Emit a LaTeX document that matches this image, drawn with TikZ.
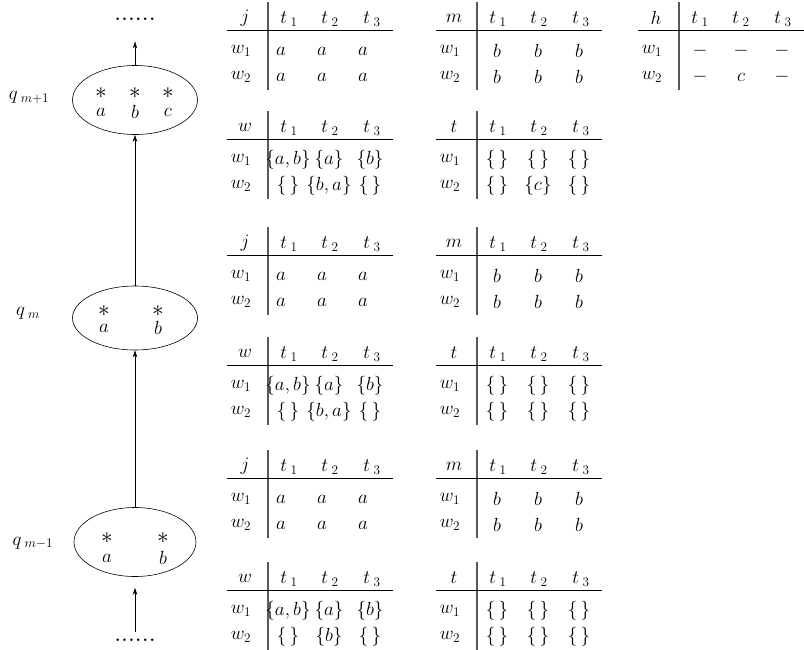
\documentclass[tikz,border=0pt]{standalone}
\usepackage{graphicx}
\usetikzlibrary{arrows.meta,shapes.geometric}
\tikzset{
  cell/.style={inner sep=0pt, font=\fontsize{17.28}{20}\selectfont},
  vrule/.style={draw=black!65, line width=1.3pt},
  hrule/.style={draw=black, line width=0.8pt},
  state/.style={ellipse, draw, line width=0.6pt, inner sep=0pt},
  arr/.style={-{Stealth[length=7pt,width=4.5pt]}, line width=0.6pt},
  dots/.style={inner sep=1pt, font=\fontsize{17.28}{20}\selectfont\bfseries},
}
\newcommand\T[1]{\scalebox{1.1}{#1}}
\newcommand\St{\scalebox{1.35}{$\ast$}}
\newcommand\tabframe[4]{% name, V, h, label
  \draw[vrule] (#2,#3-16) -- (#2,#3+72);
  \draw[hrule] (#2-41,#3+12) -- (#2+125,#3+12);
  \node[cell] (#1h) at (#2-23,#3) {\T{$#4$}};
  \node[cell] (#1t1) at (#2+21,#3+1) {\T{$t_{\;1}$}};
  \node[cell] (#1t2) at (#2+62,#3+1) {\T{$t_{\;2}$}};
  \node[cell] (#1t3) at (#2+104,#3+1) {\T{$t_{\;3}$}};
  \node[cell] (#1wa) at (#2-27,#3+33) {\T{$w_1$}};
  \node[cell] (#1wb) at (#2-27,#3+59) {\T{$w_2$}};
}
\newcommand\tabrow[8]{% name, V, y, idx, v1, v2, v3, shift
  \node[cell] (#1r#4a) at (#2+20+#8,#3) {\T{#5}};
  \node[cell] (#1r#4b) at (#2+61+#8,#3) {\T{#6}};
  \node[cell] (#1r#4c) at (#2+102+#8,#3) {\T{#7}};
}
\newcommand\es{$\{\,\}$}
\begin{document}
\begin{tikzpicture}[x=1pt,y=-1pt]
\useasboundingbox (0,0) rectangle (804,649);

% ---- states ----
\node[state, minimum width=125pt, minimum height=69pt] (s3) at (135,100) {};
\node[state, minimum width=125pt, minimum height=64pt] (s2) at (135,318) {};
\node[state, minimum width=122pt, minimum height=69pt] (s1) at (135,542) {};

\node[cell] (s3x1) at (101,93) {\St};
\node[cell] (s3x2) at (135,93) {\St};
\node[cell] (s3x3) at (168,93) {\St};
\node[cell] (s3a) at (101,112) {\T{$a$}};
\node[cell] (s3b) at (135,112) {\T{$b$}};
\node[cell] (s3c) at (168,112) {\T{$c$}};

\node[cell] (s2x1) at (104,311) {\St};
\node[cell] (s2x2) at (158,311) {\St};
\node[cell] (s2a) at (104,328) {\T{$a$}};
\node[cell] (s2b) at (158,328) {\T{$b$}};

\node[cell] (s1x1) at (107,538) {\St};
\node[cell] (s1x2) at (163,538) {\St};
\node[cell] (s1a) at (107,558) {\T{$a$}};
\node[cell] (s1b) at (163,558) {\T{$b$}};

\node[cell] (q3) at (29,97) {\T{$q_{\;m+1}$}};
\node[cell] (q2) at (28,313) {\T{$q_{\;m}$}};
\node[cell] (q1) at (33,543) {\T{$q_{\;m-1}$}};

\node[dots] (topdots) at (135,19) {.\kern1.5pt.\kern1.5pt.\kern1.5pt.\kern1.5pt.\kern1.5pt.};
\node[dots] (botdots) at (135,640) {.\kern1.5pt.\kern1.5pt.\kern1.5pt.\kern1.5pt.\kern1.5pt.};

\draw[arr, shorten >=20pt] (s3.north) -- (topdots.south);
\draw[arr] (s2.north) -- (s3.south);
\draw[arr] (s1.north) -- (s2.south);
\draw[arr, shorten <=6pt, shorten >=11pt] (botdots.north) -- (s1.south);

% ---- column 1 ----
\tabframe{A}{268}{18}{j}
\tabrow{A}{268}{18+33}{1}{$a$}{$a$}{$a$}{-7}
\tabrow{A}{268}{18+59}{2}{$a$}{$a$}{$a$}{-7}
\tabframe{B}{268}{127}{w}
\tabrow{B}{268}{127+33}{1}{$\{a,b\}$}{$\{a\}$}{$\{b\}$}{0}
\tabrow{B}{268}{127+59}{2}{\es}{$\{b,a\}$}{\es}{0}
\tabframe{C}{268}{243}{j}
\tabrow{C}{268}{243+33}{1}{$a$}{$a$}{$a$}{-7}
\tabrow{C}{268}{243+59}{2}{$a$}{$a$}{$a$}{-7}
\tabframe{D}{268}{353}{w}
\tabrow{D}{268}{353+33}{1}{$\{a,b\}$}{$\{a\}$}{$\{b\}$}{0}
\tabrow{D}{268}{353+59}{2}{\es}{$\{b,a\}$}{\es}{0}
\tabframe{E}{268}{466}{j}
\tabrow{E}{268}{466+33}{1}{$a$}{$a$}{$a$}{-7}
\tabrow{E}{268}{466+59}{2}{$a$}{$a$}{$a$}{-7}
\tabframe{F}{268}{578}{w}
\tabrow{F}{268}{578+33}{1}{$\{a,b\}$}{$\{a\}$}{$\{b\}$}{0}
\tabrow{F}{268}{578+59}{2}{\es}{$\{b\}$}{\es}{0}

% ---- column 2 ----
\tabframe{G}{477}{18}{m}
\tabrow{G}{477}{18+33}{1}{$b$}{$b$}{$b$}{0}
\tabrow{G}{477}{18+59}{2}{$b$}{$b$}{$b$}{0}
\tabframe{H}{477}{127}{t}
\tabrow{H}{477}{127+33}{1}{\es}{\es}{\es}{0}
\tabrow{H}{477}{127+59}{2}{\es}{$\{c\}$}{\es}{0}
\tabframe{I}{477}{243}{m}
\tabrow{I}{477}{243+33}{1}{$b$}{$b$}{$b$}{0}
\tabrow{I}{477}{243+59}{2}{$b$}{$b$}{$b$}{0}
\tabframe{J}{477}{353}{t}
\tabrow{J}{477}{353+33}{1}{\es}{\es}{\es}{0}
\tabrow{J}{477}{353+59}{2}{\es}{\es}{\es}{0}
\tabframe{K}{477}{466}{m}
\tabrow{K}{477}{466+33}{1}{$b$}{$b$}{$b$}{0}
\tabrow{K}{477}{466+59}{2}{$b$}{$b$}{$b$}{0}
\tabframe{L}{477}{578}{t}
\tabrow{L}{477}{578+33}{1}{\es}{\es}{\es}{0}
\tabrow{L}{477}{578+59}{2}{\es}{\es}{\es}{0}

% ---- column 3 ----
\tabframe{M}{679}{18}{h}
\tabrow{M}{679}{18+33}{1}{$-$}{$-$}{$-$}{1}
\tabrow{M}{679}{18+59}{2}{$-$}{$c$}{$-$}{1}
\end{tikzpicture}
\end{document}
